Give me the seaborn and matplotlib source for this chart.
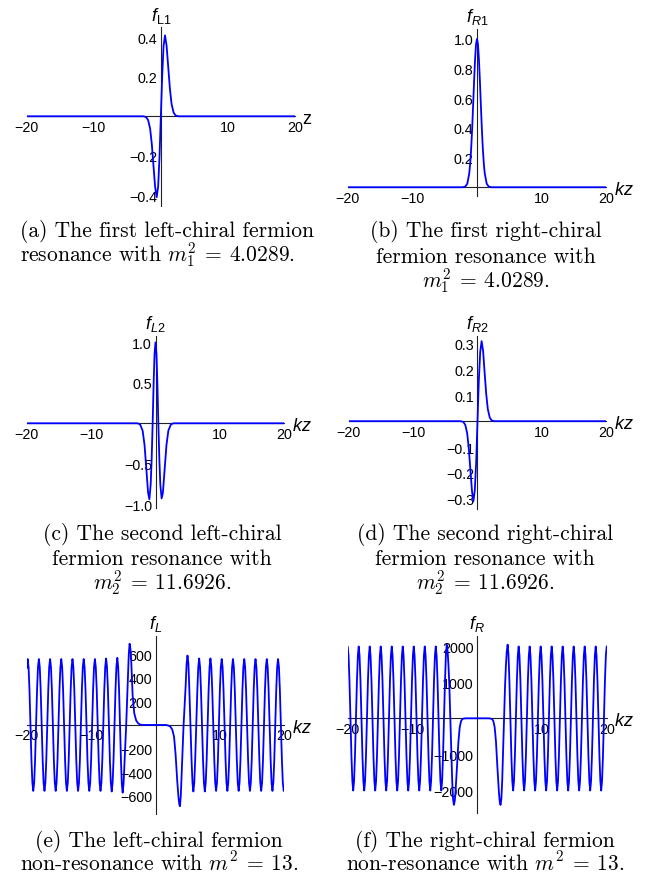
import pandas as pd
import matplotlib
matplotlib.use("Agg")
import matplotlib.pyplot as plt
from matplotlib.ticker import MultipleLocator
import seaborn as sns

# ---- data (kz, f) ----
pts_a = [(-20, 0), (-2.6, 0), (-2.2, -0.004), (-1.9, -0.019), (-1.6, -0.062), (-1.35, -0.14),
         (-1.1, -0.25), (-0.85, -0.36), (-0.62, -0.41), (-0.4, -0.355), (-0.2, -0.205), (0, 0),
         (0.2, 0.205), (0.4, 0.355), (0.62, 0.41), (0.85, 0.36), (1.1, 0.25), (1.35, 0.14),
         (1.6, 0.062), (1.9, 0.019), (2.2, 0.004), (2.6, 0), (20, 0)]

pts_b = [(-20, 0), (-2.2, 0), (-1.8, 0.005), (-1.5, 0.024), (-1.2, 0.093), (-1.05, 0.162),
         (-0.9, 0.262), (-0.75, 0.395), (-0.6, 0.552), (-0.45, 0.716), (-0.3, 0.862), (-0.15, 0.964),
         (0, 1.0), (0.15, 0.964), (0.3, 0.862), (0.45, 0.716), (0.6, 0.552), (0.75, 0.395),
         (0.9, 0.262), (1.05, 0.162), (1.2, 0.093), (1.5, 0.024), (1.8, 0.005), (2.2, 0), (20, 0)]

pts_c = [(-20, 0), (-2.8, 0), (-2.4, -0.013), (-2.0, -0.09), (-1.7, -0.27), (-1.4, -0.59),
         (-1.15, -0.86), (-0.95, -0.94), (-0.75, -0.76), (-0.6, -0.45), (-0.44, 0), (-0.3, 0.47),
         (-0.15, 0.86), (0, 1.0), (0.15, 0.86), (0.3, 0.47), (0.44, 0), (0.6, -0.45), (0.75, -0.76),
         (0.95, -0.93), (1.15, -0.86), (1.4, -0.59), (1.7, -0.27), (2.0, -0.09), (2.4, -0.013),
         (2.8, 0), (20, 0)]

pts_d = [(-20, 0), (-2.6, 0), (-2.2, -0.003), (-1.9, -0.014), (-1.6, -0.047), (-1.35, -0.106),
         (-1.1, -0.19), (-0.85, -0.272), (-0.64, -0.31), (-0.42, -0.268), (-0.2, -0.155), (0, 0),
         (0.2, 0.155), (0.42, 0.268), (0.64, 0.31), (0.87, 0.272), (1.1, 0.19), (1.35, 0.106),
         (1.6, 0.047), (1.9, 0.014), (2.2, 0.003), (2.6, 0), (20, 0)]

pts_e = [(-20.00, 480), (-19.85, 560), (-19.71, 490), (-19.57, 300),
         (-19.26, -300), (-19.12, -490), (-18.98, -560), (-18.84, -490), (-18.70, -300),
         (-18.39, 300), (-18.25, 490), (-18.11, 560), (-17.97, 490), (-17.83, 300),
         (-17.52, -300), (-17.38, -490), (-17.24, -560), (-17.10, -490), (-16.96, -300),
         (-16.65, 300), (-16.51, 490), (-16.37, 560), (-16.23, 490), (-16.09, 300),
         (-15.78, -300), (-15.64, -490), (-15.50, -560), (-15.36, -490), (-15.22, -300),
         (-14.91, 300), (-14.77, 490), (-14.63, 560), (-14.49, 490), (-14.35, 300),
         (-14.04, -300), (-13.90, -490), (-13.76, -560), (-13.62, -490), (-13.48, -300),
         (-13.17, 300), (-13.03, 490), (-12.89, 560), (-12.75, 490), (-12.61, 300),
         (-12.30, -300), (-12.16, -490), (-12.02, -560), (-11.88, -490), (-11.74, -300),
         (-11.43, 300), (-11.29, 490), (-11.15, 560), (-11.01, 490), (-10.87, 300),
         (-10.56, -300), (-10.42, -490), (-10.28, -560), (-10.14, -490), (-10.00, -300),
         (-9.69, 300), (-9.55, 490), (-9.41, 560), (-9.27, 490), (-9.13, 300),
         (-8.82, -300), (-8.68, -490), (-8.54, -560), (-8.40, -490), (-8.26, -300),
         (-7.95, 300), (-7.81, 490), (-7.67, 565), (-7.53, 490), (-7.39, 300),
         (-7.08, -300), (-6.94, -490), (-6.80, -565), (-6.66, -490), (-6.52, -300),
         (-6.21, 300), (-6.07, 495), (-5.93, 570), (-5.80, 495), (-5.66, 300),
         (-5.36, -310), (-5.23, -500), (-5.10, -575), (-4.96, -500), (-4.82, -330),
         (-4.55, 0), (-4.28, 390), (-4.15, 600), (-4.02, 690), (-3.90, 650), (-3.78, 560),
         (-3.55, 250), (-3.30, 100), (-3.00, 38), (-2.70, 14), (-2.40, 4), (-2.00, 0),
         (1.60, 0), (1.95, -4), (2.30, -14), (2.60, -38), (2.88, -100), (3.12, -250),
         (3.38, -480), (3.58, -620), (3.70, -675), (3.80, -690), (3.93, -600), (4.07, -400),
         (4.36, 0), (4.68, 330), (4.83, 520), (4.97, 590), (5.11, 520), (5.25, 310),
         (5.60, -300), (5.74, -490), (5.88, -565), (6.02, -490), (6.16, -300),
         (6.50, 300), (6.64, 490), (6.78, 565), (6.92, 490), (7.06, 300),
         (7.38, -300), (7.52, -490), (7.66, -565), (7.80, -490), (7.94, -300),
         (8.25, 300), (8.39, 490), (8.53, 565), (8.67, 490), (8.81, 300),
         (9.13, -300), (9.27, -490), (9.41, -560), (9.55, -490), (9.69, -300),
         (10.00, 300), (10.14, 490), (10.28, 560), (10.42, 490), (10.56, 300),
         (10.88, -300), (11.02, -490), (11.16, -560), (11.30, -490), (11.44, -300),
         (11.75, 300), (11.89, 490), (12.03, 560), (12.17, 490), (12.31, 300),
         (12.63, -300), (12.77, -490), (12.91, -560), (13.05, -490), (13.19, -300),
         (13.50, 300), (13.64, 490), (13.78, 560), (13.92, 490), (14.06, 300),
         (14.38, -300), (14.52, -490), (14.66, -560), (14.80, -490), (14.94, -300),
         (15.25, 300), (15.39, 490), (15.53, 560), (15.67, 490), (15.81, 300),
         (16.13, -300), (16.27, -490), (16.41, -560), (16.55, -490), (16.69, -300),
         (17.00, 300), (17.14, 490), (17.28, 560), (17.42, 490), (17.56, 300),
         (17.88, -300), (18.02, -490), (18.16, -560), (18.30, -490), (18.44, -300),
         (18.75, 300), (18.89, 490), (19.03, 560), (19.17, 490), (19.31, 300),
         (19.63, -300), (19.77, -490), (19.91, -560), (20.00, -530)]

pts_f = [(-20.00, 2000), (-19.87, 1740), (-19.73, 1060),
         (-19.42, -1060), (-19.28, -1750), (-19.15, -2010), (-19.02, -1750), (-18.88, -1060),
         (-18.57, 1060), (-18.43, 1740), (-18.30, 2000), (-18.17, 1740), (-18.03, 1060),
         (-17.72, -1060), (-17.58, -1750), (-17.45, -2010), (-17.32, -1750), (-17.18, -1060),
         (-16.87, 1060), (-16.73, 1740), (-16.60, 2000), (-16.47, 1740), (-16.33, 1060),
         (-16.02, -1060), (-15.88, -1750), (-15.75, -2010), (-15.62, -1750), (-15.48, -1060),
         (-15.17, 1060), (-15.03, 1740), (-14.90, 2000), (-14.77, 1740), (-14.63, 1060),
         (-14.32, -1060), (-14.18, -1750), (-14.05, -2010), (-13.92, -1750), (-13.78, -1060),
         (-13.47, 1060), (-13.33, 1740), (-13.20, 2000), (-13.07, 1740), (-12.93, 1060),
         (-12.62, -1060), (-12.48, -1750), (-12.35, -2010), (-12.22, -1750), (-12.08, -1060),
         (-11.77, 1060), (-11.63, 1740), (-11.50, 2000), (-11.37, 1740), (-11.23, 1060),
         (-10.92, -1060), (-10.78, -1750), (-10.65, -2010), (-10.52, -1750), (-10.38, -1060),
         (-10.07, 1060), (-9.93, 1740), (-9.80, 2000), (-9.67, 1740), (-9.53, 1060),
         (-9.22, -1060), (-9.08, -1750), (-8.95, -2010), (-8.82, -1750), (-8.68, -1060),
         (-8.37, 1060), (-8.23, 1740), (-8.10, 2000), (-7.97, 1740), (-7.83, 1060),
         (-7.52, -1060), (-7.38, -1750), (-7.25, -2010), (-7.12, -1750), (-6.98, -1060),
         (-6.67, 1060), (-6.53, 1740), (-6.40, 2000), (-6.27, 1740), (-6.13, 1060),
         (-5.82, -1060), (-5.68, -1750), (-5.55, -2010), (-5.42, -1750), (-5.28, -1060),
         (-4.97, 1060), (-4.83, 1780), (-4.70, 2050), (-4.56, 1850), (-4.43, 1450), (-4.30, 900),
         (-4.15, 0), (-4.00, -950), (-3.86, -1750), (-3.73, -2250), (-3.60, -2410), (-3.47, -2300),
         (-3.35, -2050), (-3.10, -1300), (-2.90, -650), (-2.70, -250), (-2.50, -80), (-2.30, -20),
         (-2.00, -4), (-1.70, 0),
         (1.70, 0), (2.00, -4), (2.30, -20), (2.50, -80), (2.70, -250), (2.90, -650), (3.10, -1300),
         (3.35, -2050), (3.47, -2300), (3.60, -2410), (3.73, -2250), (3.86, -1750), (4.00, -950),
         (4.15, 0), (4.30, 900), (4.43, 1450), (4.56, 1850), (4.70, 2050), (4.83, 1780), (4.97, 1060),
         (5.28, -1060), (5.42, -1750), (5.55, -2010), (5.68, -1750), (5.82, -1060),
         (6.13, 1060), (6.27, 1740), (6.40, 2000), (6.53, 1740), (6.67, 1060),
         (6.98, -1060), (7.12, -1750), (7.25, -2010), (7.38, -1750), (7.52, -1060),
         (7.83, 1060), (7.97, 1740), (8.10, 2000), (8.23, 1740), (8.37, 1060),
         (8.68, -1060), (8.82, -1750), (8.95, -2010), (9.08, -1750), (9.22, -1060),
         (9.53, 1060), (9.67, 1740), (9.80, 2000), (9.93, 1740), (10.07, 1060),
         (10.38, -1060), (10.52, -1750), (10.65, -2010), (10.78, -1750), (10.92, -1060),
         (11.23, 1060), (11.37, 1740), (11.50, 2000), (11.63, 1740), (11.77, 1060),
         (12.08, -1060), (12.22, -1750), (12.35, -2010), (12.48, -1750), (12.62, -1060),
         (12.93, 1060), (13.07, 1740), (13.20, 2000), (13.33, 1740), (13.47, 1060),
         (13.78, -1060), (13.92, -1750), (14.05, -2010), (14.18, -1750), (14.32, -1060),
         (14.63, 1060), (14.77, 1740), (14.90, 2000), (15.03, 1740), (15.17, 1060),
         (15.48, -1060), (15.62, -1750), (15.75, -2010), (15.88, -1750), (16.02, -1060),
         (16.33, 1060), (16.47, 1740), (16.60, 2000), (16.73, 1740), (16.87, 1060),
         (17.18, -1060), (17.32, -1750), (17.45, -2010), (17.58, -1750), (17.72, -1060),
         (18.03, 1060), (18.17, 1740), (18.30, 2000), (18.43, 1740), (18.57, 1060),
         (18.88, -1060), (19.02, -1750), (19.15, -2010), (19.28, -1750), (19.42, -1060),
         (19.73, 1060), (19.87, 1740), (20.00, 2000)]

# ---- ticks ----
x_ticks = [-20, -10, 10, 20]
x_labels = ["\u221220", "\u221210", "10", "20"]

yt_a = [-0.4, -0.2, 0.2, 0.4]
yl_a = ["\u22120.4", "\u22120.2", "0.2", "0.4"]
yt_b = [0.2, 0.4, 0.6, 0.8, 1.0]
yl_b = ["0.2", "0.4", "0.6", "0.8", "1.0"]
yt_c = [-1.0, -0.5, 0.5, 1.0]
yl_c = ["\u22121.0", "\u22120.5", "0.5", "1.0"]
yt_d = [-0.3, -0.2, -0.1, 0.1, 0.2, 0.3]
yl_d = ["\u22120.3", "\u22120.2", "\u22120.1", "0.1", "0.2", "0.3"]
yt_e = [-600, -400, -200, 200, 400, 600]
yl_e = ["\u2212600", "\u2212400", "\u2212200", "200", "400", "600"]
yt_f = [-2000, -1000, 1000, 2000]
yl_f = ["\u22122000", "\u22121000", "1000", "2000"]

# ---- captions ----
cap_a = ["(a) The first left-chiral fermion", r"resonance with $m_1^2\:=\:4.0289$."]
cap_b = ["(b) The first right-chiral", "fermion resonance with", r"$m_1^2\:=\:4.0289$."]
cap_c = ["(c) The second left-chiral", "fermion resonance with", r"$m_2^2\:=\:11.6926$."]
cap_d = ["(d) The second right-chiral", "fermion resonance with", r"$m_2^2\:=\:11.6926$."]
cap_e = ["(e) The left-chiral fermion", r"non-resonance with $m^2\:=\:13$."]
cap_f = ["(f) The right-chiral fermion", r"non-resonance with $m^2\:=\:13$."]

sns.set_style("white")
plt.rcParams["font.family"] = ["Liberation Sans", "DejaVu Sans"]
plt.rcParams["text.color"] = "black"
plt.rcParams["xtick.color"] = "black"
plt.rcParams["ytick.color"] = "black"
plt.rcParams["mathtext.fontset"] = "custom"
plt.rcParams["mathtext.rm"] = "Liberation Sans"
plt.rcParams["mathtext.it"] = "Liberation Sans:italic"
plt.rcParams["mathtext.bf"] = "Liberation Sans:bold"

W, H = 665, 878
fig = plt.figure(figsize=(W / 100, H / 100), dpi=100)


def panel(box, ylim, pts, yt, yl, yminor, ylab, xlab):
    L, R, T, B = box
    ax = fig.add_axes([L / W, 1 - B / H, (R - L) / W, (B - T) / H])
    ax.patch.set_alpha(0)
    df = pd.DataFrame(pts, columns=["kz", "f"])
    sns.lineplot(data=df, x="kz", y="f", ax=ax, color="#0000ff", linewidth=1.3,
                 estimator=None, sort=False, zorder=3)
    ax.set_xlim(-20, 20)
    ax.set_ylim(*ylim)
    ax.set_xlabel("")
    ax.set_ylabel("")
    for s in ["top", "right"]:
        ax.spines[s].set_visible(False)
    for s in ["left", "bottom"]:
        ax.spines[s].set_position(("data", 0))
        ax.spines[s].set_color("#222222")
        ax.spines[s].set_linewidth(0.8)
    ax.set_xticks(x_ticks, x_labels)
    ax.set_yticks(yt, yl)
    ax.xaxis.set_minor_locator(MultipleLocator(2))
    ax.yaxis.set_minor_locator(MultipleLocator(yminor))
    ax.tick_params(which="major", direction="in", length=3, width=0.6, pad=2.5,
                   labelsize=10.3, color="#222222", labelcolor="black")
    ax.tick_params(which="minor", direction="in", length=1.8, width=0.5, color="#222222")
    ax.annotate(ylab, xy=(0, ylim[1]), xytext=(0, 2), textcoords="offset points",
                ha="center", va="bottom", fontsize=13, color="black")
    ax.annotate(xlab, xy=(20, 0), xytext=(5.5, -1.5), textcoords="offset points",
                ha="left", va="center", fontsize=13, color="black")
    return ax


panel((26.7, 295, 28.3, 206.7), (-0.453, 0.451), pts_a, yt_a, yl_a, 0.05, r"$f_{\mathrm{L1}}$", "z")
panel((347.7, 606.3, 30, 196.7), (-0.057, 1.067), pts_b, yt_b, yl_b, 0.05, r"$f_{\mathit{R1}}$", r"$kz$")
panel((26.7, 284.3, 336.7, 509.3), (-1.052, 1.084), pts_c, yt_c, yl_c, 0.1, r"$f_{\mathit{L2}}$", r"$kz$")
panel((348.7, 606.3, 336.7, 510), (-0.340, 0.331), pts_d, yt_d, yl_d, 0.02, r"$f_{\mathit{R2}}$", r"$kz$")
panel((26.7, 284.3, 636.7, 815), (-756, 758), pts_e, yt_e, yl_e, 50, r"$f_{L}$", r"$kz$")
panel((347.7, 606.7, 636.7, 814), (-2635, 2299), pts_f, yt_f, yl_f, 200, r"$f_{R}$", r"$kz$")


def caption(lines, xc, ys, ha="center"):
    for s, y in zip(lines, ys):
        fig.text(xc / W, 1 - y / H, s, ha=ha, va="baseline", fontsize=15.5,
                 family="cmr10", math_fontfamily="cm", color="black")


caption(cap_a, 20, [237, 262], ha="left")
caption(cap_b, 486, [237, 263, 288])
caption(cap_c, 162, [540, 565, 590])
caption(cap_d, 485, [540, 565, 590])
caption(cap_e, 159, [847, 871])
caption(cap_f, 485, [847, 871])

fig.savefig("out.png", dpi=100)
